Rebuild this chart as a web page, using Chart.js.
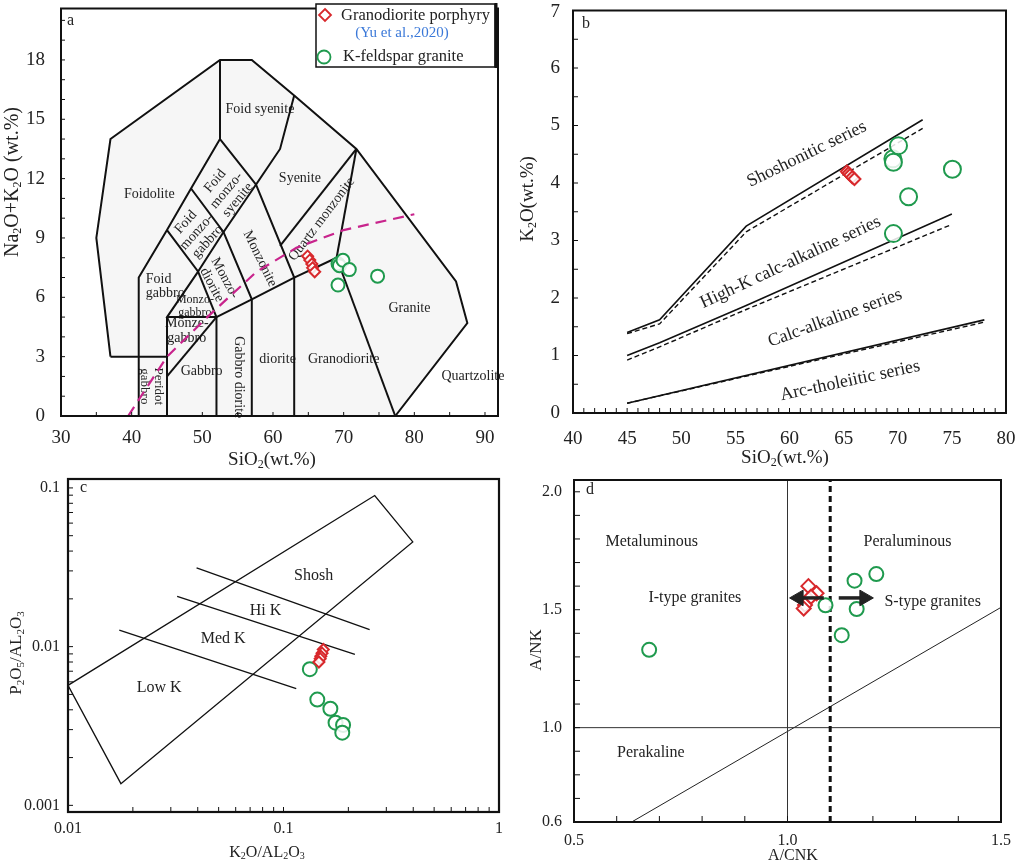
<!DOCTYPE html>
<html>
<head>
<meta charset="utf-8">
<script src="https://cdn.jsdelivr.net/npm/chart.js@4.4.0/dist/chart.umd.min.js"></script>
<style>
  body { margin: 0; background: #fff; }
  #wrap { position: relative; width: 1017px; height: 866px; overflow: hidden; }
  canvas { position: absolute; }
</style>
</head>
<body>
<div id="wrap">
  <canvas id="chartA" width="510" height="470" style="left:0;top:0"></canvas>
  <canvas id="chartB" width="507" height="470" style="left:510px;top:0"></canvas>
  <canvas id="chartC" width="510" height="396" style="left:0;top:470px"></canvas>
  <canvas id="chartD" width="507" height="396" style="left:510px;top:470px"></canvas>
</div>
<script>
// ---------- data ----------
const seriesNames = ["Granodiorite porphyry", "K-feldspar granite"];
const citation = "(Yu et al.,2020)";

// a: TAS diagram (SiO2 vs Na2O+K2O)
const aXTicks = [30, 40, 50, 60, 70, 80, 90];
const aYTicks = [0, 3, 6, 9, 12, 15, 18];
const porphyryA = [[64.9, 8.08], [65.2, 7.88], [65.5, 7.68], [65.6, 7.49], [65.9, 7.29]];
const graniteA = [[69.2, 7.7], [69.4, 7.6], [69.9, 7.87], [70.8, 7.4], [74.8, 7.07], [69.2, 6.62]];
const alkalineLine = [[39.5, 0], [45, 3], [51, 5.1], [57.7, 7.3], [63.3, 8.5], [70, 9.4], [80, 10.2]];
const tasOutline = [[37, 3], [35, 9], [37, 14], [52.5, 18], [57, 18], [63, 16.2], [71.8, 13.5], [85.9, 6.8], [87.5, 4.7], [77.3, 0], [41, 0], [41, 3], [37, 3]];
const tasLines = [
  [[37, 3], [35, 9], [37, 14], [52.5, 18], [57, 18], [63, 16.2], [71.8, 13.5], [85.9, 6.8], [87.5, 4.7], [77.3, 0]],
  [[37, 3], [45, 3]],
  [[41, 0], [41, 7], [45, 9.4], [48.4, 11.5], [52.5, 14], [52.5, 18]],
  [[52.5, 14], [57.6, 11.7], [61, 13.5], [63, 16.2]],
  [[48.4, 11.5], [53, 9.3], [57.6, 11.7]],
  [[45, 9.4], [49.4, 7.3], [53, 9.3]],
  [[49.4, 7.3], [45, 5], [45, 0]],
  [[45, 5], [52, 5], [52, 0]],
  [[49.4, 7.3], [52, 5]],
  [[45, 2], [52, 5]],
  [[52, 5], [57, 5.9], [63, 7], [69, 8]],
  [[53, 9.3], [57, 5.9], [57, 0]],
  [[57.6, 11.7], [63, 7], [63, 0]],
  [[61, 8.6], [71.8, 13.5]],
  [[69, 8], [71.8, 13.5]],
  [[69, 8], [77.3, 0]]
];
const tasLabels = [
  ["Foid syenite", 58.15, 15.5, 0],
  ["Foidolite", 42.5, 11.2, 0],
  ["Syenite", 63.8, 12.0, 0],
  ["Foid\nmonzo-\nsyenite", 53.4, 11.4, -50],
  ["Foid\nmonzo-\ngabbro", 49.2, 9.3, -48],
  ["Monzo-\ndiorite", 52.25, 6.8, 62],
  ["Monzonite", 58.15, 7.95, 64],
  ["Quartz monzonite", 66.9, 9.95, -53],
  ["Foid\ngabbro", 42.0, 6.55, 0, 14, "left"],
  ["Monzo-\ngabbro", 48.95, 5.54, 0, 12],
  ["Monze-\ngabbro", 47.8, 4.3, 0],
  ["Gabbro", 49.9, 2.26, 0],
  ["Gabbro diorite", 55.1, 1.96, 90],
  ["diorite", 60.65, 2.84, 0],
  ["Granodiorite", 70.0, 2.84, 0],
  ["Granite", 79.3, 5.45, 0],
  ["Quartzolite", 88.3, 2.01, 0],
  ["Peridot\ngabbro", 42.8, 1.5, 90, 13]
];

// b: SiO2 vs K2O
const bXTicks = [40, 45, 50, 55, 60, 65, 70, 75, 80];
const bYTicks = [0, 1, 2, 3, 4, 5, 6, 7];
const porphyryB = [[65.3, 4.2], [65.45, 4.17], [65.6, 4.14], [65.8, 4.1], [66.0, 4.07]];
const graniteB = [[69.55, 4.42], [69.6, 4.36], [70.07, 4.65], [71.0, 3.76], [75.05, 4.24], [69.6, 3.12]];
const shoSolid = [[45, 1.4], [48, 1.62], [56, 3.25], [72.3, 5.1]];
const shoDash = [[45, 1.38], [48, 1.55], [56, 3.15], [72.3, 4.95]];
const hkSolid = [[45, 1.0], [48, 1.22], [56, 1.87], [75, 3.46]];
const hkDash = [[45, 0.92], [48, 1.15], [56, 1.8], [75, 3.28]];
const caSolid = [[45, 0.17], [78, 1.62]];
const caDash = [[45, 0.17], [78, 1.58]];
const seriesLabels = [
  ["Shoshonitic series", 61.6, 4.5, -26],
  ["High-K calc-alkaline series", 60.1, 2.62, -25],
  ["Calc-alkaline series", 64.2, 1.65, -20],
  ["Arc-tholeiitic series", 65.6, 0.56, -12]
];

// c: K2O/Al2O3 vs P2O5/Al2O3 (log-log)
const cXTicks = [0.01, 0.1, 1];
const cYTicks = [0.001, 0.01, 0.1];
const porphyryC = [[0.153, 0.0096], [0.151, 0.0091], [0.149, 0.0087], [0.148, 0.0084], [0.146, 0.008]];
const graniteC = [[0.1325, 0.00721], [0.1435, 0.00464], [0.165, 0.00406], [0.1744, 0.00332], [0.189, 0.00321], [0.1874, 0.00287]];
const cBox = [[0.01, 0.0057], [0.265, 0.0896], [0.398, 0.0457], [0.0176, 0.00137], [0.01, 0.0057]];
const cShoshLine = [[0.0395, 0.0313], [0.251, 0.0128]];
const cHiKLine = [[0.0321, 0.0207], [0.2145, 0.00895]];
const cMedKLine = [[0.0173, 0.0127], [0.1146, 0.00544]];
const cLabels = [
  ["Shosh", 0.138, 0.0278, 0],
  ["Hi K", 0.0825, 0.0168, 0],
  ["Med K", 0.0525, 0.0112, 0],
  ["Low K", 0.0265, 0.00554, 0]
];

// d: A/CNK vs A/NK
const dXTicks = [0.5, 1.0, 1.5];
const dYTicks = [0.6, 1.0, 1.5, 2.0];
const porphyryD = [[1.049, 1.6], [1.068, 1.57], [1.055, 1.555], [1.041, 1.52], [1.038, 1.505]];
const graniteD = [[0.676, 1.33], [1.089, 1.519], [1.157, 1.623], [1.208, 1.651], [1.162, 1.503], [1.127, 1.392]];
const dVertical = [[1.0, 0.6], [1.0, 2.05]];
const dHorizontal = [[0.5, 1.0], [1.5, 1.0]];
const dDiagonal = [[0.635, 0.6], [1.5, 1.51]];
const dDivider = [[1.1, 0.6], [1.1, 2.05]];
const arrowLeft = [[1.085, 1.55], [1.026, 1.55]];
const arrowRight = [[1.12, 1.55], [1.18, 1.55]];
const dLabels = [
  ["Metaluminous", 0.682, 1.79, 0],
  ["Peraluminous", 1.281, 1.79, 0],
  ["I-type granites", 0.783, 1.55, 0],
  ["S-type granites", 1.34, 1.533, 0],
  ["Perakaline", 0.68, 0.894, 0]
];

// ---------- helpers ----------
const SERIF = '"Liberation Serif", "Times New Roman", serif';
const GREEN = "#1f9a4e";
const RED = "#d8282c";
const TXT = "#222";

const pts = (arr) => arr.map((p) => ({ x: p[0], y: p[1] }));

function steps(a, b, s) {
  const r = [];
  for (let v = a; v <= b + 1e-9; v += s) r.push(+v.toFixed(4));
  return r;
}
function logSteps(lo, hi) {
  const r = [];
  for (let e = lo; e < hi; e++) for (let m = 1; m < 10; m++) r.push(m * Math.pow(10, e));
  r.push(Math.pow(10, hi));
  return r;
}

function lineSet(arr, w, dash, color) {
  return {
    data: pts(arr), showLine: true, borderColor: color || "#111", borderWidth: w,
    borderDash: dash || [], pointRadius: 0, pointHoverRadius: 0, tension: 0
  };
}
function markerSet(arr, style, r, color) {
  return {
    data: pts(arr), showLine: false, pointStyle: style, pointRadius: r, pointHoverRadius: r,
    pointBorderColor: color, pointBackgroundColor: "rgba(255,255,255,0.85)", pointBorderWidth: 2
  };
}
function arrowSet(arr, rot) {
  return {
    data: pts(arr), showLine: true, borderColor: "#222", borderWidth: 3.5,
    pointStyle: "triangle", pointRadius: [0, 9], pointRotation: rot,
    pointBackgroundColor: "#222", pointBorderColor: "#222", pointBorderWidth: 1
  };
}

function axis(type, min, max, ticks, pad, size, fontSize, fmt, isY) {
  return {
    type: type, min: min, max: max, position: isY ? "left" : "bottom",
    grid: { display: false, drawTicks: false }, border: { display: false },
    ticks: {
      font: { family: SERIF, size: fontSize }, color: TXT, padding: pad,
      autoSkip: false, maxRotation: 0, minRotation: 0, callback: fmt
    },
    afterBuildTicks(s) { s.ticks = ticks.map((v) => ({ value: v })); },
    afterFit(s) {
      if (isY) s.width = size; else s.height = size;
      s.paddingTop = 0; s.paddingBottom = 0; s.paddingLeft = 0; s.paddingRight = 0;
    }
  };
}

// text with "_x" subscripts
function drawRich(ctx, str, x, y, size, rot) {
  const parts = [];
  str.split(/(_.)/).forEach((s) => {
    if (!s) return;
    if (s[0] === "_") parts.push({ t: s[1], sub: true });
    else parts.push({ t: s, sub: false });
  });
  const fontOf = (p) => (p.sub ? Math.round(size * 0.62) : size) + "px " + SERIF;
  let w = 0;
  parts.forEach((p) => { ctx.font = fontOf(p); p.w = ctx.measureText(p.t).width; w += p.w; });
  ctx.save();
  ctx.translate(x, y);
  ctx.rotate((rot || 0) * Math.PI / 180);
  ctx.textBaseline = "middle";
  ctx.textAlign = "left";
  ctx.fillStyle = TXT;
  let cx = -w / 2;
  parts.forEach((p) => { ctx.font = fontOf(p); ctx.fillText(p.t, cx, p.sub ? size * 0.24 : 0); cx += p.w; });
  ctx.restore();
}

function drawLabel(ctx, text, x, y, rot, size, align) {
  const lines = text.split("\n");
  const lh = size * 1.05;
  ctx.save();
  ctx.translate(x, y);
  ctx.rotate(rot * Math.PI / 180);
  ctx.font = size + "px " + SERIF;
  ctx.fillStyle = TXT;
  ctx.textAlign = align || "center";
  ctx.textBaseline = "middle";
  lines.forEach((s, i) => ctx.fillText(s, 0, (i - (lines.length - 1) / 2) * lh));
  ctx.restore();
}

function seg(ctx, x1, y1, x2, y2) {
  ctx.beginPath(); ctx.moveTo(x1, y1); ctx.lineTo(x2, y2); ctx.stroke();
}

// frame, inward ticks, labels, titles
function deco(o) {
  return {
    id: "deco",
    beforeDatasetsDraw(chart) {
      const ctx = chart.ctx, xs = chart.scales.x, ys = chart.scales.y;
      if (o.shade) {
        ctx.save();
        ctx.fillStyle = o.shade[1];
        ctx.beginPath();
        o.shade[0].forEach((p, i) => {
          const px = xs.getPixelForValue(p[0]), py = ys.getPixelForValue(p[1]);
          if (i === 0) ctx.moveTo(px, py); else ctx.lineTo(px, py);
        });
        ctx.closePath();
        ctx.fill();
        ctx.restore();
      }
      (o.labels || []).forEach((l) => {
        drawLabel(ctx, l[0], xs.getPixelForValue(l[1]), ys.getPixelForValue(l[2]), l[3] || 0, l[4] || o.labelSize, l[5]);
      });
    },
    afterDatasetsDraw(chart) {
      const ctx = chart.ctx, a = chart.chartArea, xs = chart.scales.x, ys = chart.scales.y;
      ctx.save();
      ctx.strokeStyle = "#111";
      ctx.lineWidth = 1;
      o.minorX.forEach((v) => { const p = xs.getPixelForValue(v); seg(ctx, p, a.bottom, p, a.bottom - o.tickLen); });
      o.minorY.forEach((v) => { const p = ys.getPixelForValue(v); seg(ctx, a.left, p, a.left + o.tickLen, p); });
      ctx.lineWidth = o.frameW;
      ctx.strokeRect(a.left, a.top, a.right - a.left, a.bottom - a.top);
      ctx.fillStyle = TXT;
      ctx.font = "16px " + SERIF;
      ctx.textAlign = "left";
      ctx.textBaseline = "middle";
      ctx.fillText(o.letter, a.left + o.letterDx, a.top + o.letterDy);
      drawRich(ctx, o.xTitle[0], o.xTitle[1], o.xTitle[2], o.xTitle[3], 0);
      drawRich(ctx, o.yTitle[0], o.yTitle[1], o.yTitle[2], o.yTitle[3], -90);
      if (o.extra) o.extra(ctx, chart);
      ctx.restore();
    }
  };
}

function makeChart(id, o) {
  return new Chart(document.getElementById(id), {
    type: "scatter",
    data: { datasets: o.datasets },
    options: {
      responsive: false, animation: false, events: [],
      layout: { padding: o.pad },
      plugins: { legend: { display: false }, tooltip: { enabled: false } },
      scales: { x: o.x, y: o.y }
    },
    plugins: [deco(o)]
  });
}

// ---------- panel a ----------
makeChart("chartA", {
  pad: { top: 3, right: 12, left: 0, bottom: 0 },
  x: axis("linear", 30, 91.84, aXTicks, 11, 54, 19, (v) => v, false),
  y: axis("linear", 0, 20.6, aYTicks, 16, 61, 19, (v) => v, true),
  datasets: [
    markerSet(porphyryA, "rectRot", 5.5, RED),
    markerSet(graniteA, "circle", 6.5, GREEN),
    lineSet(alkalineLine, 2.2, [11, 7], "#c8248c")
  ].concat(tasLines.map((l) => lineSet(l, 2, [], "#111"))),
  shade: [tasOutline, "#f6f6f6"],
  labels: tasLabels, labelSize: 14,
  minorX: steps(35, 90, 5), minorY: steps(1, 20, 1), tickLen: 4, frameW: 2,
  letter: "a", letterDx: 6, letterDy: 12,
  xTitle: ["SiO_2(wt.%)", 272, 460, 19],
  yTitle: ["Na_2O+K_2O (wt.%)", 13, 182, 20],
  extra(ctx) {
    // legend box
    ctx.fillStyle = "#fff";
    ctx.fillRect(316, 4, 179, 63);
    ctx.strokeStyle = "#111";
    ctx.lineWidth = 1.5;
    ctx.strokeRect(316, 4, 179, 63);
    ctx.lineWidth = 3;
    seg(ctx, 496, 3, 496, 68);
    // diamond
    ctx.strokeStyle = RED;
    ctx.lineWidth = 1.8;
    ctx.beginPath();
    ctx.moveTo(325, 9); ctx.lineTo(331, 15); ctx.lineTo(325, 21); ctx.lineTo(319, 15); ctx.closePath();
    ctx.stroke();
    // circle
    ctx.strokeStyle = GREEN;
    ctx.beginPath(); ctx.arc(324, 57, 6.5, 0, Math.PI * 2); ctx.stroke();
    ctx.fillStyle = TXT;
    ctx.textAlign = "left";
    ctx.textBaseline = "middle";
    ctx.font = "16.5px " + SERIF;
    ctx.fillText(seriesNames[0], 341, 16);
    ctx.fillText(seriesNames[1], 343, 57);
    ctx.fillStyle = "#3a78d8";
    ctx.textAlign = "center";
    ctx.font = "15px " + SERIF;
    ctx.fillText(citation, 402, 33);
  }
});

// ---------- panel b ----------
makeChart("chartB", {
  pad: { top: 3, right: 11, left: 0, bottom: 0 },
  x: axis("linear", 40, 80, bXTicks, 15, 57, 19, (v) => v, false),
  y: axis("linear", 0, 7, bYTicks, 13, 63, 19, (v) => (v === 7 ? "" : v), true),
  datasets: [
    markerSet(porphyryB, "rectRot", 6, RED),
    markerSet(graniteB, "circle", 8.5, GREEN),
    lineSet(shoSolid, 1.6), lineSet(shoDash, 1.4, [5, 3]),
    lineSet(hkSolid, 1.6), lineSet(hkDash, 1.4, [5, 3]),
    lineSet(caSolid, 1.6), lineSet(caDash, 1.4, [5, 3])
  ],
  labels: seriesLabels, labelSize: 18,
  minorX: steps(41, 79, 1), minorY: steps(0.5, 6.5, 0.5), tickLen: 5, frameW: 2,
  letter: "b", letterDx: 9, letterDy: 13,
  xTitle: ["SiO_2(wt.%)", 275, 458, 19],
  yTitle: ["K_2O(wt.%)", 18, 199, 19],
  extra(ctx, chart) {
    ctx.fillStyle = TXT;
    ctx.font = "19px " + SERIF;
    ctx.textAlign = "right";
    ctx.textBaseline = "middle";
    ctx.fillText(String(bYTicks[bYTicks.length - 1]), chart.chartArea.left - 13, 12);
  }
});

// ---------- panel c ----------
makeChart("chartC", {
  pad: { top: 6, right: 11, left: 0, bottom: 0 },
  x: axis("logarithmic", 0.01, 1, cXTicks, 7, 54, 16, (v) => String(v), false),
  y: axis("logarithmic", 0.000908, 0.1138, cYTicks, 8, 68, 16, (v) => String(v), true),
  datasets: [
    markerSet(porphyryC, "rectRot", 5.5, RED),
    markerSet(graniteC, "circle", 7, GREEN),
    lineSet(cBox, 1.3), lineSet(cShoshLine, 1.3), lineSet(cHiKLine, 1.3), lineSet(cMedKLine, 1.3)
  ],
  labels: cLabels, labelSize: 16,
  minorX: logSteps(-2, 0), minorY: logSteps(-3, -1), tickLen: 5, frameW: 2.2,
  letter: "c", letterDx: 12, letterDy: 9,
  xTitle: ["K_2O/AL_2O_3", 267, 383, 16],
  yTitle: ["P_2O_5/AL_2O_3", 17, 183, 17]
});

// ---------- panel d ----------
makeChart("chartD", {
  pad: { top: 4, right: 16, left: 0, bottom: 0 },
  x: axis("linear", 0.5, 1.5, dXTicks, 9, 44, 16, (v) => v.toFixed(1), false),
  y: axis("linear", 0.6, 2.05, dYTicks, 12, 64, 16, (v) => v.toFixed(1), true),
  datasets: [
    arrowSet(arrowLeft, -90),
    arrowSet(arrowRight, 90),
    markerSet(porphyryD, "rectRot", 7, RED),
    markerSet(graniteD, "circle", 7, GREEN),
    lineSet(dDivider, 3, [6, 4], "#111"),
    lineSet(dVertical, 1, [], "#333"),
    lineSet(dHorizontal, 1, [], "#333"),
    lineSet(dDiagonal, 1, [], "#222")
  ],
  labels: dLabels, labelSize: 16,
  minorX: steps(0.6, 1.4, 0.1), minorY: steps(0.7, 2.0, 0.1), tickLen: 6, frameW: 2,
  letter: "d", letterDx: 12, letterDy: 10,
  xTitle: ["A/CNK", 283, 386, 16],
  yTitle: ["A/NK", 27, 180, 17]
});
</script>
</body>
</html>
